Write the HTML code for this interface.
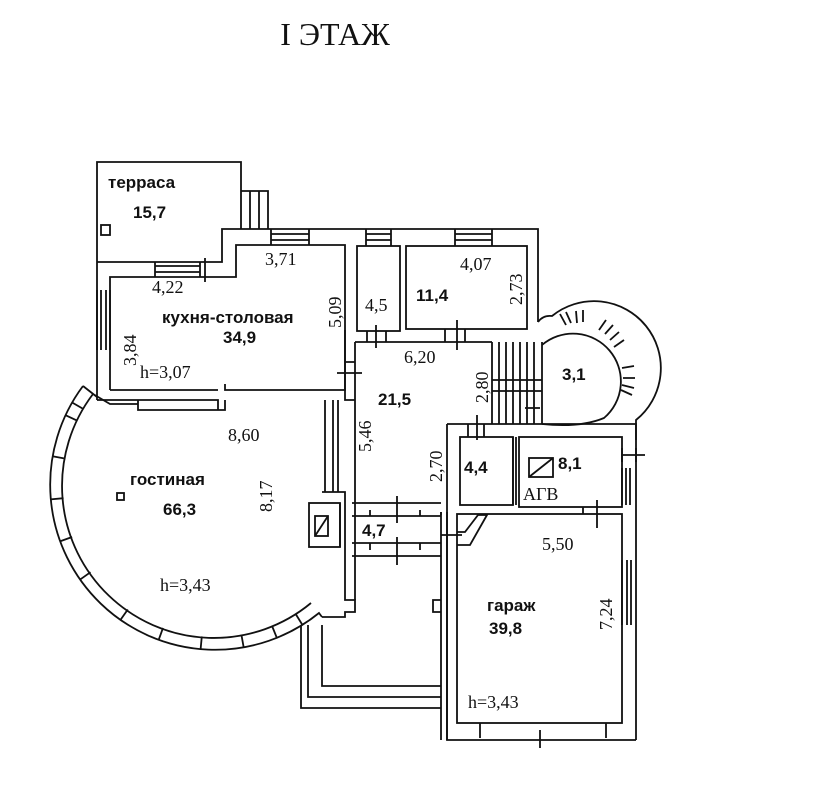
<!DOCTYPE html>
<html><head><meta charset="utf-8"><style>
html,body{margin:0;padding:0;background:#fff;}
svg{display:block;}
.d{font-family:"Liberation Serif",serif;font-size:18px;fill:#111;}
.b{font-family:"Liberation Sans",sans-serif;font-weight:bold;font-size:17px;fill:#111;}
</style></head><body>
<svg width="838" height="785" viewBox="0 0 838 785" xmlns="http://www.w3.org/2000/svg">
<rect width="838" height="785" fill="#fff"/>
<text x="335" y="45" text-anchor="middle" font-family="Liberation Serif,serif" font-size="32" fill="#111">I ЭТАЖ</text>
<g fill="none" stroke="#111" stroke-width="1.8">
<path d="M97 400 V162 H241 V229"/>
<rect x="101" y="225" width="9" height="10"/>
<path d="M241 191 H268 V229 M250 191 V229 M259 191 V229"/>
<path d="M97 262 H222 V229 H538 V322"/>
<path d="M110 390 V277 H236 V245 H345 V390 H225 V384"/>
<path d="M110 390 H218 M97 400 H218 V410"/>
<path d="M138 400 V410 H225 V400"/>
<path d="M155 262 V277 M200 262 V277 M155 266 H200 M155 272 H200 M205 258 V282"/>
<path d="M97 290 V350 M110 290 V350 M101 290 V350 M106 290 V350"/>
<path d="M271 229 V245 M309 229 V245 M271 234 H309 M271 240 H309"/>
<path d="M366 229 V246 M391 229 V246 M366 234 H391 M366 240 H391"/>
<path d="M455 229 V246 M492 229 V246 M455 234 H492 M455 240 H492"/>
<rect x="357" y="246" width="43" height="85"/>
<rect x="406" y="246" width="121" height="83"/>
<path d="M367 331 V342 M386 331 V342 M376 325 V348 M445 329 V342 M465 329 V342 M457 320 V350"/>
<path d="M345 330 V390 M355 342 V503 M345 362 H355 M337 373 H362 M345 390 V400 H355"/>
<path d="M325 400 V492 M333 400 V492 M338 400 V492 M322 492 H345 V503"/>
<path d="M355 342 H492"/>
<path d="M492 342 V424 M542 342 V424"/>
<path d="M499 342 V424 M506 342 V424 M513 342 V424 M520 342 V424 M527 342 V424 M534 342 V424"/>
<path d="M492 380 H542 M492 391 H542 M525 408 H540"/>
<path d="M538 322 Q543 315 552 316 A52 52 0 0 1 636 420 L636 440"/>
<path d="M542 345 A43 43 0 0 1 604 418 Q580 428 542 424"/>
<path d="M560 314 L566 325 M583 310 L583 322 M606 320 L599 330 M624 340 L614 347 M634 366 L622 368 M632 395 L621 390"/>
<path d="M566 312 L571 323 M576 311 L577 323 M613 325 L605 334 M619 332 L610 340 M635 378 L623 378 M634 388 L622 385"/>
<path d="M447 424 H636 V740"/>
<path d="M447 424 V740 H636"/>
<rect x="460" y="437" width="53" height="68"/>
<rect x="519" y="437" width="103" height="70"/>
<path d="M513 437 V505 M516 437 V505"/>
<rect x="529" y="458" width="24" height="19"/>
<path d="M529 477 L553 458"/>
<path d="M622 448 V462 M636 448 V462 M622 455 H645 M622 468 V505 M626 468 V505 M630 468 V505 M468 424 V437 M484 424 V437 M477 415 V440"/>
<rect x="457" y="514" width="165" height="209"/>
<path d="M583 507 V514 M597 500 V528 M622 560 V625 M627 560 V625 M631 560 V625 M480 723 V738 M606 723 V738 M540 730 V748"/>
<path d="M457 532 H465 L478 515 H487 L470 545 H457"/>
<path d="M441 512 V515 M441 535 H462"/>
<path d="M352 503 H441 M352 516 H441 M352 543 H441 M352 556 H441 M397 496 V523 M397 537 V565 M370 510 V516 M420 510 V516 M370 543 V550 M420 543 V550"/>
<path d="M441 512 V740 M447 512 V740"/>
<rect x="309" y="503" width="31" height="44"/>
<rect x="315" y="516" width="13" height="20"/>
<path d="M315 536 L328 516"/>
<path d="M340 503 V547 M345 503 V600 H355 V612 H345 V617 H322"/>
<path d="M355 547 V600 M355 503 V547"/>
<path d="M441 600 H433 V612 H441"/>
<path d="M301 625 V708 H441 M308 625 V697 H441 M322 625 V686 H441"/>
<path d="M83 386 A165 165 0 0 0 319 613 L322 617"/>
<path d="M93 394 A152 152 0 0 0 311 603"/>
<path d="M83 386 L97 397 M93 394 L110 404 H138"/>
<path d="M83.4 409 L72.1 402.5 M77.3 420.7 L65.5 415.2 M65.3 458.6 L52.5 456.3 M63.6 498.2 L50.6 499.4 M72.1 537 L59.9 541.4 M90.5 572.2 L79.9 579.7 M127.8 609.5 L120.3 620.1 M163 627.9 L158.6 640.1 M201.8 636.4 L200.6 649.3 M241.4 634.7 L243.7 647.5 M272 625.9 L276.9 638 M295.6 613.9 L302.4 624.9"/>
<rect x="117" y="493" width="7" height="7"/>
</g>
<text class="b" x="108" y="188">терраса</text>
<text class="b" x="133" y="218">15,7</text>
<text class="d" x="265" y="265">3,71</text>
<text class="d" x="152" y="293">4,22</text>
<text class="b" x="162" y="323">кухня-столовая</text>
<text class="b" x="223" y="343">34,9</text>
<text class="d" x="140" y="378">h=3,07</text>
<text class="d" transform="translate(136,366) rotate(-90)">3,84</text>
<text class="d" transform="translate(341,328) rotate(-90)">5,09</text>
<text class="d" x="365" y="311">4,5</text>
<text class="b" x="416" y="301">11,4</text>
<text class="d" x="460" y="270">4,07</text>
<text class="d" transform="translate(522,305) rotate(-90)">2,73</text>
<text class="d" x="404" y="363">6,20</text>
<text class="b" x="378" y="405">21,5</text>
<text class="d" transform="translate(371,452) rotate(-90)">5,46</text>
<text class="d" transform="translate(488,403) rotate(-90)">2,80</text>
<text class="b" x="562" y="380">3,1</text>
<text class="d" transform="translate(442,482) rotate(-90)">2,70</text>
<text class="b" x="464" y="473">4,4</text>
<text class="b" x="558" y="469">8,1</text>
<text class="d" x="523" y="500">АГВ</text>
<text class="d" x="228" y="441">8,60</text>
<text class="b" x="130" y="485">гостиная</text>
<text class="b" x="163" y="515">66,3</text>
<text class="d" transform="translate(272,512) rotate(-90)">8,17</text>
<text class="d" x="160" y="591">h=3,43</text>
<text class="b" x="362" y="536">4,7</text>
<text class="d" x="542" y="550">5,50</text>
<text class="b" x="487" y="611">гараж</text>
<text class="b" x="489" y="634">39,8</text>
<text class="d" transform="translate(612,630) rotate(-90)">7,24</text>
<text class="d" x="468" y="708">h=3,43</text>
</svg>
</body></html>
